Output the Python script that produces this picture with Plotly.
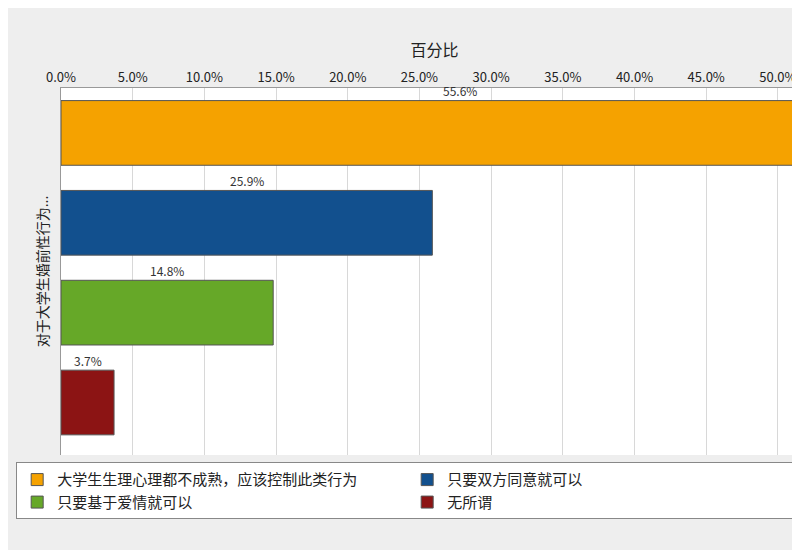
import plotly.graph_objects as go

series = ['大学生生理心理都不成熟，应该控制此类行为', '只要双方同意就可以', '只要基于爱情就可以', '无所谓']
values = [55.6, 25.9, 14.8, 3.7]
colors = ['#f5a200', '#12508e', '#66a828', '#8c1414']
ticks = [0, 5, 10, 15, 20, 25, 30, 35, 40, 45, 50]

fig = go.Figure()
for s, v, c in zip(series, values, colors):
    fig.add_trace(go.Bar(x=[v], y=[s], orientation='h', name=s, marker=dict(color=c, line=dict(color='#555', width=1)),
                         width=0.72, hoverinfo='x'))
    fig.add_annotation(x=v / 2, y=s, text='%.1f%%' % v, showarrow=False, yshift=42,
                       font=dict(size=12, color='#333'))

fig.update_layout(
    width=800, height=550, paper_bgcolor='#eeeeee', plot_bgcolor='white',
    margin=dict(l=53, r=0, t=80, b=103, autoexpand=False),
    font=dict(family='Noto Sans CJK SC', size=13, color='#222'),
    showlegend=True,
    legend=dict(orientation='h', x=-0.06, y=-0.02, xanchor='left', yanchor='top', bgcolor='white',
                bordercolor='#888', borderwidth=1, font=dict(size=15), traceorder='normal',
                entrywidth=345, entrywidthmode='pixels'),
    xaxis=dict(side='top', range=[0, 52.1], tickvals=ticks, ticktext=['%.1f%%' % t for t in ticks],
               showgrid=True, gridcolor='#d8d8d8', zeroline=False, showline=True, linecolor='#999',
               title=dict(text='百分比', font=dict(size=16), standoff=6), tickfont=dict(size=13)),
    yaxis=dict(autorange='reversed', showticklabels=False, showgrid=False, showline=True, linecolor='#999',
               title=dict(text='对于大学生婚前性行为...', font=dict(size=14), standoff=8)),
)
fig.write_html('out.html')
